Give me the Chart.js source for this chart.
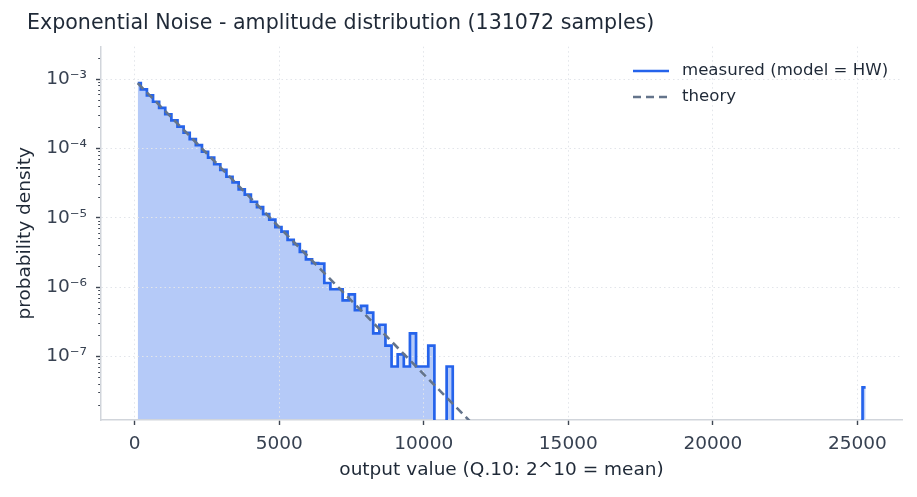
<!DOCTYPE html>
<html>
<head>
<meta charset="utf-8">
<title>Exponential Noise - amplitude distribution</title>
<script src="https://cdn.jsdelivr.net/npm/chart.js@4.4.1/dist/chart.umd.min.js"></script>
<style>
  html, body { margin: 0; padding: 0; background: #ffffff; }
  #noiseHist { display: block; }
</style>
</head>
<body>
<canvas id="noiseHist" width="917" height="497"></canvas>
<script>
// histogram of the measured output, 120 bins starting at 0
const sampleCount = 131072;
const binWidth = 211.6;
const binCounts = [
    24480, 19890, 16210, 13150, 10720, 8690, 7100, 5740, 4700, 3790,
    3110, 2500, 2060, 1650, 1370, 1090, 905, 718, 601, 475,
    398, 316, 262, 205, 176, 134, 116, 90, 70, 62,
    61, 32, 26, 26, 18, 22, 13, 15, 12, 6,
    8, 4, 2, 3, 2, 6, 2, 2, 4, 0,
    0, 2, 0, 0, 0, 0, 0, 0, 0, 0,
    0, 0, 0, 0, 0, 0, 0, 0, 0, 0,
    0, 0, 0, 0, 0, 0, 0, 0, 0, 0,
    0, 0, 0, 0, 0, 0, 0, 0, 0, 0,
    0, 0, 0, 0, 0, 0, 0, 0, 0, 0,
    0, 0, 0, 0, 0, 0, 0, 0, 0, 0,
    0, 0, 0, 0, 0, 0, 0, 0, 0, 1
];

// theory: straight line on the log axis, two ends
const theoryX = [105, 12000];
const theoryY = [8.8e-4, 7.9e-9];

const xTicks = [0, 5000, 10000, 15000, 20000, 25000];
const yMajorTicks = [1e-7, 1e-6, 1e-5, 1e-4, 1e-3];
const yTickLabels = ['10⁻⁷', '10⁻⁶', '10⁻⁵', '10⁻⁴', '10⁻³'];
const xRange = [-1165, 26545];
const yRange = [1.22e-8, 2.95e-3];

(function () {
    const canvas = document.getElementById('noiseHist');
    const FONT = '"DejaVu Sans", "Liberation Sans", sans-serif';
    const gridColor = '#e2e5ea';
    const tickMarkColor = '#3f4652';
    const labelColor = '#1f2937';
    const tickLabelColor = '#374151';
    // empty bins go far below the axis so only their edges show
    const EMPTY_FLOOR = 1e-12;

    const histPoints = binCounts.map((c, i) => ({
        x: binWidth * (i + 0.5),
        y: c > 0 ? c / (sampleCount * binWidth) : EMPTY_FLOOR
    }));
    const theoryPoints = theoryX.map((x, i) => ({ x, y: theoryY[i] }));

    const yTicks = [];
    for (let e = -8; e <= -3; e++) {
        for (let m = 1; m <= 9; m++) {
            const v = m * Math.pow(10, e);
            if (v >= yRange[0] && v <= yRange[1]) {
                yTicks.push({ value: v, major: m === 1 });
            }
        }
    }

    const majorLabel = (v) => {
        const idx = yMajorTicks.findIndex(t => Math.abs(v / t - 1) < 1e-6);
        return idx >= 0 ? yTickLabels[idx] : '';
    };

    const titlePlugin = {
        id: 'plotTitle',
        afterDraw(chart) {
            const ctx = chart.ctx;
            ctx.save();
            ctx.font = '20.6px ' + FONT;
            ctx.fillStyle = labelColor;
            ctx.textAlign = 'left';
            ctx.textBaseline = 'middle';
            ctx.fillText('Exponential Noise - amplitude distribution (131072 samples)', 27, 24);
            ctx.restore();
        }
    };

    // legend sits inside the plot, upper right
    const legendPlugin = {
        id: 'insideLegend',
        afterDraw(chart) {
            const ctx = chart.ctx;
            const x0 = 633, x1 = 669, textX = 682;
            let y = 71;
            ctx.save();
            ctx.font = '16.6px ' + FONT;
            ctx.textAlign = 'left';
            ctx.textBaseline = 'middle';
            chart.data.datasets.forEach(ds => {
                ctx.beginPath();
                ctx.setLineDash(ds.borderDash || []);
                ctx.lineWidth = ds.borderWidth;
                ctx.strokeStyle = ds.borderColor;
                ctx.moveTo(x0, y);
                ctx.lineTo(x1, y);
                ctx.stroke();
                ctx.setLineDash([]);
                ctx.fillStyle = labelColor;
                ctx.fillText(ds.label, textX, y);
                y += 26;
            });
            ctx.restore();
        }
    };

    new Chart(canvas, {
        type: 'line',
        data: {
            datasets: [{
                label: 'measured (model = HW)',
                data: histPoints,
                stepped: 'middle',
                borderColor: '#2563eb',
                borderWidth: 2.7,
                borderJoinStyle: 'miter',
                backgroundColor: 'rgba(37, 99, 235, 0.34)',
                fill: 'start',
                pointRadius: 0,
                order: 1
            }, {
                label: 'theory',
                data: theoryPoints,
                borderColor: '#64748b',
                borderWidth: 2.6,
                borderDash: [8, 5],
                fill: false,
                pointRadius: 0,
                order: 0
            }]
        },
        options: {
            responsive: false,
            animation: false,
            events: [],
            layout: { padding: { left: 4, right: 15, top: 46.7, bottom: 4 } },
            scales: {
                x: {
                    type: 'linear',
                    min: xRange[0],
                    max: xRange[1],
                    afterBuildTicks: (scale) => {
                        scale.ticks = xTicks.map(v => ({ value: v, major: true }));
                    },
                    afterFit: (scale) => { scale.height = 73; },
                    ticks: {
                        autoSkip: false,
                        maxRotation: 0,
                        padding: 8,
                        color: tickLabelColor,
                        font: { family: FONT, size: 18.5 },
                        callback: (v) => String(v)
                    },
                    grid: {
                        color: gridColor,
                        lineWidth: 1,
                        tickColor: tickMarkColor,
                        tickLength: 5,
                        tickWidth: 1.4
                    },
                    border: { display: true, color: '#d1d5db', width: 1.5, dash: [1.5, 3] },
                    title: {
                        display: true,
                        text: 'output value (Q.10: 2^10 = mean)',
                        color: labelColor,
                        font: { family: FONT, size: 18.5 },
                        padding: { top: 0, bottom: 12 }
                    }
                },
                y: {
                    type: 'logarithmic',
                    min: yRange[0],
                    max: yRange[1],
                    afterBuildTicks: (scale) => {
                        scale.ticks = yTicks.map(t => ({ value: t.value, major: t.major }));
                    },
                    afterFit: (scale) => { scale.width = 97; },
                    ticks: {
                        autoSkip: false,
                        padding: 9,
                        color: tickLabelColor,
                        font: { family: FONT, size: 18.5 },
                        callback: (v) => majorLabel(v)
                    },
                    grid: {
                        color: (c) => (c.tick && c.tick.major) ? gridColor : 'rgba(0,0,0,0)',
                        lineWidth: 1,
                        tickColor: tickMarkColor,
                        tickLength: 5,
                        tickWidth: (c) => (c.tick && c.tick.major) ? 1.4 : 1,
                        tickBorderDash: (c) => (c.tick && c.tick.major) ? [] : [0, 2.2, 2.8, 0]
                    },
                    border: { display: true, color: '#d1d5db', width: 1.5, dash: [1.5, 3] },
                    title: {
                        display: true,
                        text: 'probability density',
                        color: labelColor,
                        font: { family: FONT, size: 18.5 },
                        padding: { top: 10, bottom: 0 }
                    }
                }
            },
            plugins: {
                legend: { display: false },
                tooltip: { enabled: false },
                filler: { drawTime: 'beforeDraw' }
            }
        },
        plugins: [titlePlugin, legendPlugin]
    });
})();
</script>
</body>
</html>
